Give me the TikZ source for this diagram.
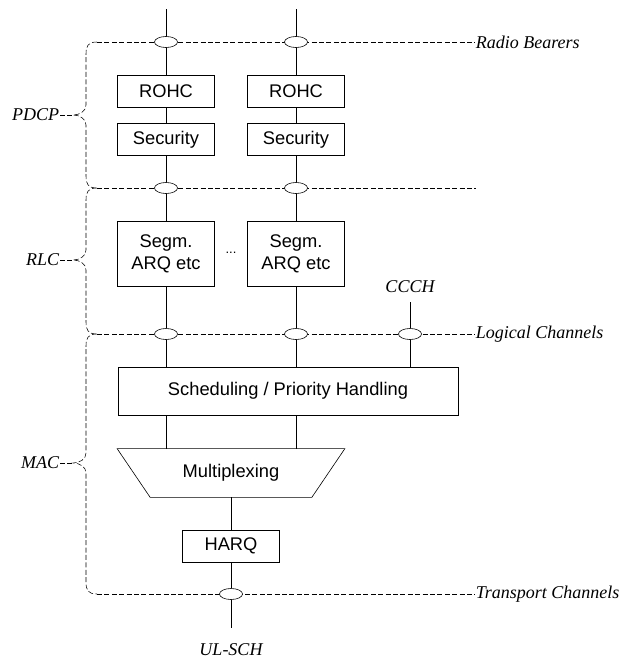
\documentclass[tikz,border=0pt]{standalone}
\usepackage{fontspec}
\setmainfont{Liberation Serif}
\newfontfamily\boxfont{Liberation Sans}
\usetikzlibrary{shapes.geometric}
\begin{document}
\begin{tikzpicture}[x=1pt,y=-1pt,
  line width=0.7pt,
  blk/.style={draw,line width=0.6pt,minimum width=97,minimum height=32,inner sep=0pt,
     font=\boxfont\fontsize{18.3}{22}\selectfont,align=center},
  sap/.style={draw,ellipse,fill=white,line width=0.6pt,minimum width=23,minimum height=11,inner sep=0pt},
  dsh/.style={dash pattern=on 5pt off 2.4pt,line width=0.55pt},
  lab/.style={font=\itshape\fontsize{18}{20}\selectfont,inner sep=0.5pt}]
\useasboundingbox (0,0) rectangle (622,664);

% top free ends
\coordinate (t1) at (166,9);
\coordinate (t2) at (296,9);

% boxes
\node[blk] (rohc1) at (166,91) {ROHC};
\node[blk] (rohc2) at (296,91) {ROHC};
\node[blk] (sec1) at (166,139.5) {Security};
\node[blk] (sec2) at (296,139.5) {Security};
\node[blk,minimum height=65] (segm1) at (166,254) {Segm.\\ARQ etc};
\node[blk,minimum height=65] (segm2) at (296,254) {Segm.\\ARQ etc};
\node[font=\boxfont\fontsize{13}{14}\selectfont] (dots) at (231,253) {...};
\node[blk,minimum width=340,minimum height=48] (sched) at (288,391) {Scheduling / Priority Handling};
\node[minimum width=227,minimum height=48,inner sep=0pt,font=\boxfont\fontsize{18.3}{22}\selectfont] (mux) at (231,473) {Multiplexing};
\draw[line width=0.6pt] (mux.north west) -- (mux.north east) -- ([xshift=-33]mux.south east) -- ([xshift=33]mux.south west) -- cycle;
\node[blk] (harq) at (231,546) {HARQ};

% labels
\node[lab,anchor=west] (rbl) at (475,42) {Radio Bearers};
\node[lab,anchor=west] (lcl) at (475,334) {Logical Channels};
\node[lab,anchor=west] (tcl) at (475,594) {Transport Channels};
\node[lab] (ccch) at (410,287) {CCCH};
\node[lab] (ulsch) at (231,650) {UL-SCH};
\node[lab,anchor=east] (pdcp) at (60,115) {PDCP};
\node[lab,anchor=east] (rlc) at (60,260) {RLC};
\node[lab,anchor=east] (mac) at (60,463) {MAC};

% dashed lines and braces
\coordinate (c1) at (97,42);
\coordinate (c2) at (97,188);
\coordinate (c3) at (97,334);
\coordinate (c4) at (97,594);
\coordinate (r2) at (476,188);
\draw[dsh] (c1) -- (rbl.west);
\draw[dsh] (c2) -- (r2);
\draw[dsh] (c3) -- (lcl.west);
\draw[dsh] (c4) -- (tcl.west);

\coordinate (tipA) at (73,115);
\coordinate (tipB) at (73,260);
\coordinate (tipC) at (73,463);
\draw[dsh] (c1) .. controls (88,42) and (86,46) .. (86,54) -- (86,105) .. controls (86,111) and (80,115) .. (tipA)
  .. controls (80,115) and (86,119) .. (86,125) -- (86,176) .. controls (86,184) and (88,188) .. (c2);
\draw[dsh] (c2) .. controls (88,188) and (86,192) .. (86,200) -- (86,250) .. controls (86,256) and (80,260) .. (tipB)
  .. controls (80,260) and (86,264) .. (86,270) -- (86,322) .. controls (86,330) and (88,334) .. (c3);
\draw[dsh] (c3) .. controls (88,334) and (86,338) .. (86,346) -- (86,453) .. controls (86,459) and (80,463) .. (tipC)
  .. controls (80,463) and (86,467) .. (86,473) -- (86,582) .. controls (86,590) and (88,594) .. (c4);
\draw[dsh] (pdcp.east) -- (tipA);
\draw[dsh] (rlc.east) -- (tipB);
\draw[dsh] (mac.east) -- (tipC);

% SAP ellipses
\node[sap] (rb1) at (166,42) {};
\node[sap] (rb2) at (296,42) {};
\node[sap] (pr1) at (166,188) {};
\node[sap] (pr2) at (296,188) {};
\node[sap] (lc1) at (166,334) {};
\node[sap] (lc2) at (296,334) {};
\node[sap] (lc3) at (410,334) {};
\node[sap] (tc) at (231,594) {};
\coordinate (ccchend) at (410,302);
\coordinate (ulend) at (231,628);

% solid connectors
\draw (t1) -- (rb1) -- (rohc1) -- (sec1) -- (pr1) -- (segm1) -- (lc1) -- (lc1 |- sched.north);
\draw (t2) -- (rb2) -- (rohc2) -- (sec2) -- (pr2) -- (segm2) -- (lc2) -- (lc2 |- sched.north);
\draw (ccchend) -- (lc3) -- (lc3 |- sched.north);
\draw (sched.south -| lc1) -- (mux.north -| lc1);
\draw (sched.south -| lc2) -- (mux.north -| lc2);
\draw (mux.south) -- (harq) -- (tc) -- (ulend);
\end{tikzpicture}
\end{document}
